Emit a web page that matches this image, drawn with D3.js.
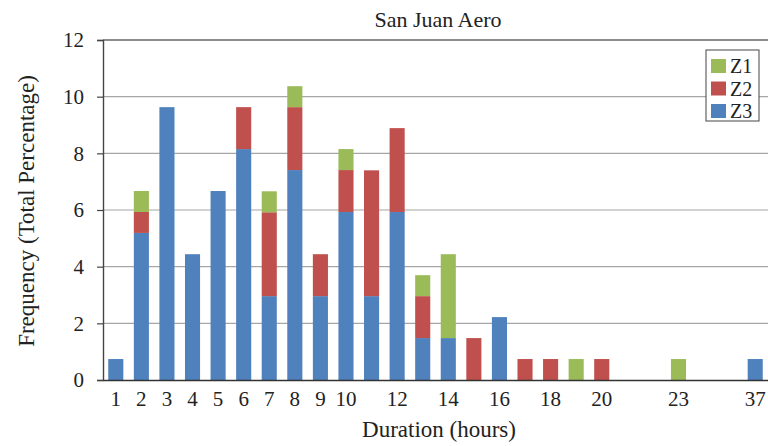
<!DOCTYPE html>
<html><head><meta charset="utf-8">
<script src="https://cdn.jsdelivr.net/npm/d3@7"></script>
<style>body{margin:0;background:#fff}svg{display:block}</style>
</head><body>
<svg id="chart" width="768" height="446"></svg>
<script>
const categories = ["1","2","3","4","5","6","7","8","9","10","11","12","13","14","15","16","17","18","19","20","21","22","23","24","25","37"];
const shownLabels = ["1","2","3","4","5","6","7","8","9","10","12","14","16","18","20","23","37"];
const seriesNames = ["Z3","Z2","Z1"];
const z3 = [0.74,5.19,9.63,4.44,6.67,8.15,2.96,7.41,2.96,5.93,2.96,5.93,1.48,1.48,0,2.22,0,0,0,0,0,0,0,0,0,0.74];
const z2 = [0,0.74,0,0,0,1.48,2.96,2.22,1.48,1.48,4.44,2.96,1.48,0,1.48,0,0.74,0.74,0,0.74,0,0,0,0,0,0];
const z1 = [0,0.74,0,0,0,0,0.74,0.74,0,0.74,0,0,0.74,2.96,0,0,0,0,0.74,0,0,0,0.74,0,0,0];
const yTicks = [0,2,4,6,8,10,12];
const colors = {Z1:"#9BBB59", Z2:"#C0504D", Z3:"#4F81BD"};

const rows = categories.map((c,i)=>({cat:c, Z3:z3[i], Z2:z2[i], Z1:z1[i]}));
const stack = d3.stack().keys(seriesNames)(rows);

const svg = d3.select("#chart");
const m = {left:103, right:0, top:40, bottom:66};
const W = 768, H = 446;
const x = d3.scaleBand().domain(categories).range([m.left, W - m.right]).paddingInner(0.41).paddingOuter(0.205);
const y = d3.scaleLinear().domain([0,12]).range([H - m.bottom, m.top]);
const font = "'Liberation Serif','Times New Roman',serif";

// gridlines
svg.append("g").selectAll("line").data(yTicks.filter(t=>t>0 && t<12)).join("line")
  .attr("x1", m.left).attr("x2", W).attr("y1", d=>y(d)).attr("y2", d=>y(d))
  .attr("stroke", "#a6a6a6").attr("stroke-width", 1.2);
// top border
svg.append("line").attr("x1", m.left).attr("x2", W).attr("y1", y(12)).attr("y2", y(12))
  .attr("stroke", "#666").attr("stroke-width", 1.4);

// bars
svg.append("g").selectAll("g").data(stack).join("g")
  .attr("fill", d=>colors[d.key])
  .selectAll("rect").data(d=>d.filter(p=>p[1]-p[0]>0)).join("rect")
  .attr("x", d=>x(d.data.cat)).attr("width", x.bandwidth())
  .attr("y", d=>y(d[1])).attr("height", d=>y(d[0]) - y(d[1]));

// y axis
const ya = svg.append("g").attr("transform", `translate(${m.left},0)`)
  .call(d3.axisLeft(y).tickValues(yTicks).tickSize(6).tickPadding(13));
ya.select(".domain").attr("stroke", "#444").attr("stroke-width", 1.4);
ya.selectAll(".tick line").attr("stroke", "#444").attr("stroke-width", 1.2);
ya.selectAll("text").attr("font-family", font).attr("font-size", 21).attr("fill", "#222");

// x axis
const xa = svg.append("g").attr("transform", `translate(0,${y(0)})`)
  .call(d3.axisBottom(x).tickSize(0).tickPadding(11).tickFormat(d=>shownLabels.includes(d)?d:""));
xa.select(".domain").attr("stroke", "#333").attr("stroke-width", 1.6);
xa.selectAll("text").attr("font-family", font).attr("font-size", 21).attr("fill", "#222");

// titles
svg.append("text").attr("x", 438).attr("y", 27).attr("text-anchor", "middle")
  .attr("font-family", font).attr("font-size", 22).attr("fill", "#222").text("San Juan Aero");
svg.append("text").attr("x", 439).attr("y", 437).attr("text-anchor", "middle")
  .attr("font-family", font).attr("font-size", 23).attr("fill", "#222").text("Duration (hours)");
svg.append("text").attr("transform", "translate(34,211) rotate(-90)").attr("text-anchor", "middle")
  .attr("font-family", font).attr("font-size", 23).attr("fill", "#222").text("Frequency (Total Percentage)");

// legend
const lg = svg.append("g").attr("transform", "translate(706,50)");
lg.append("rect").attr("width", 53).attr("height", 71).attr("fill", "#fff").attr("stroke", "#444").attr("stroke-width", 1);
["Z1","Z2","Z3"].forEach((k,i)=>{
  lg.append("rect").attr("x", 5).attr("y", 9 + i*22.5).attr("width", 15).attr("height", 14).attr("fill", colors[k]);
  lg.append("text").attr("x", 24).attr("y", 23 + i*22.5).attr("font-family", font).attr("font-size", 20).attr("fill", "#222").text(k);
});
</script>
</body></html>
